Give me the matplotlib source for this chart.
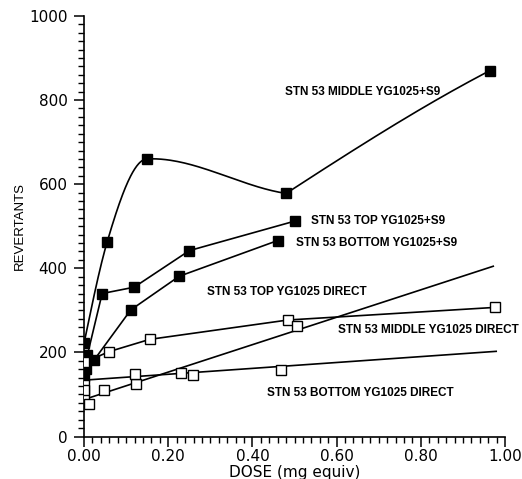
import numpy as np
import matplotlib
matplotlib.use("Agg")
import matplotlib.pyplot as plt
from matplotlib.ticker import MultipleLocator, FormatStrFormatter

# --- STN 53 extracts, strain YG1025 ---------------------------------------
# with S9 activation (filled squares)
middle_s9_dose = [0.0, 0.055, 0.149, 0.48, 0.964]
middle_s9_rev = [222, 463, 660, 578, 870]
# tangents (revertants per mg) of the smoothed curve entering / leaving each point
middle_s9_tan_in = [4800, 3400, 50, -150, 520]
middle_s9_tan_out = [4800, 3400, 50, 650, 520]

top_s9_dose = [0.0, 0.008, 0.043, 0.119, 0.25, 0.50]
top_s9_rev = [165, 194, 340, 355, 442, 512]

bottom_s9_dose = [0.0, 0.005, 0.024, 0.111, 0.226, 0.46]
bottom_s9_rev = [145, 160, 182, 301, 381, 466]

# direct (no activation, open squares)
middle_dir_dose = [0.0, 0.06, 0.156, 0.484, 0.976]
middle_dir_rev = [176, 202, 231, 277, 307]

top_dir_dose = [0.0, 0.012, 0.048, 0.123, 0.258, 0.505]
top_dir_rev = [99, 77, 111, 126, 146, 263]
top_dir_fit = [88, 326]          # intercept, slope
top_dir_fit_range = [0.01, 0.972]

bottom_dir_dose = [0.0, 0.0, 0.12, 0.23, 0.468]
bottom_dir_rev = [122, 111, 149, 152, 158]
bottom_dir_fit = [134, 70]       # intercept, slope
bottom_dir_fit_range = [0.0, 0.979]

labels = {
    "middle_s9": "STN 53 MIDDLE YG1025+S9",
    "top_s9": "STN 53 TOP YG1025+S9",
    "bottom_s9": "STN 53 BOTTOM YG1025+S9",
    "top_dir": "STN 53 TOP YG1025 DIRECT",
    "middle_dir": "STN 53 MIDDLE YG1025 DIRECT",
    "bottom_dir": "STN 53 BOTTOM YG1025 DIRECT",
}


def hermite_curve(x, y, d_in, d_out, n=60):
    """Piecewise cubic Hermite through (x, y) with given end tangents per segment."""
    xs_all, ys_all = [], []
    for i in range(len(x) - 1):
        h = x[i + 1] - x[i]
        t = np.linspace(0, 1, n)
        h00 = 2 * t ** 3 - 3 * t ** 2 + 1
        h10 = t ** 3 - 2 * t ** 2 + t
        h01 = -2 * t ** 3 + 3 * t ** 2
        h11 = t ** 3 - t ** 2
        xs_all.append(x[i] + t * h)
        ys_all.append(h00 * y[i] + h10 * h * d_out[i] + h01 * y[i + 1] + h11 * h * d_in[i + 1])
    return np.concatenate(xs_all), np.concatenate(ys_all)


fig = plt.figure(figsize=(5.22, 4.79), dpi=100)
ax = fig.add_axes([0.161, 0.0887, 0.8065, 0.878])

lw = 1.2
ms = 7
filled = dict(marker="s", ms=ms, mfc="black", mec="black", color="black", lw=lw)
openm = dict(marker="s", ms=ms, mfc="white", mec="black", mew=1.0, color="black", lw=0, zorder=3)

# S9 series
xs, ys = hermite_curve(middle_s9_dose, middle_s9_rev, middle_s9_tan_in, middle_s9_tan_out)
ax.plot(xs, ys, color="black", lw=lw)
ax.plot(middle_s9_dose, middle_s9_rev, ls="none", marker="s", ms=ms, mfc="black", mec="black")
ax.plot(top_s9_dose, top_s9_rev, **filled)
ax.plot(bottom_s9_dose, bottom_s9_rev, **filled)

# direct series
ax.plot(middle_dir_dose, middle_dir_rev, color="black", lw=lw)
ax.plot(middle_dir_dose, middle_dir_rev, **openm)

fx = np.array(top_dir_fit_range)
ax.plot(fx, top_dir_fit[0] + top_dir_fit[1] * fx, color="black", lw=lw)
ax.plot(top_dir_dose, top_dir_rev, **openm)

fx = np.array(bottom_dir_fit_range)
ax.plot(fx, bottom_dir_fit[0] + bottom_dir_fit[1] * fx, color="black", lw=lw)
ax.plot(bottom_dir_dose, bottom_dir_rev, **openm)

# series labels
tkw = dict(fontsize=8.5, fontweight="bold", family="Liberation Sans", va="center", ha="left")
ax.text(0.477, 819, labels["middle_s9"], **tkw)
ax.text(0.539, 512, labels["top_s9"], **tkw)
ax.text(0.504, 460, labels["bottom_s9"], **tkw)
ax.text(0.292, 344, labels["top_dir"], **tkw)
ax.text(0.603, 253, labels["middle_dir"], **tkw)
ax.text(0.435, 103, labels["bottom_dir"], **tkw)

ax.set_xlim(0, 1.0)
ax.set_ylim(0, 1000)
ax.xaxis.set_major_locator(MultipleLocator(0.2))
ax.xaxis.set_minor_locator(MultipleLocator(0.02))
ax.yaxis.set_major_locator(MultipleLocator(200))
ax.yaxis.set_minor_locator(MultipleLocator(20))
ax.xaxis.set_major_formatter(FormatStrFormatter("%.2f"))

for s in ("top", "right"):
    ax.spines[s].set_visible(False)
for s in ("left", "bottom"):
    ax.spines[s].set_linewidth(1.2)
ax.tick_params(which="major", direction="out", length=7, width=1.1, labelsize=11)
ax.tick_params(axis="y", which="major", pad=5)
ax.tick_params(axis="x", which="major", pad=2)
ax.tick_params(which="minor", direction="out", length=4, width=1.0)
for lab in ax.get_xticklabels() + ax.get_yticklabels():
    lab.set_family("DejaVu Sans")

ax.set_xlabel("DOSE (mg equiv)", fontsize=11, family="DejaVu Sans", labelpad=1)
ax.set_ylabel("REVERTANTS", fontsize=9.5, family="Liberation Sans", labelpad=2)

fig.savefig("out.png", dpi=100)
